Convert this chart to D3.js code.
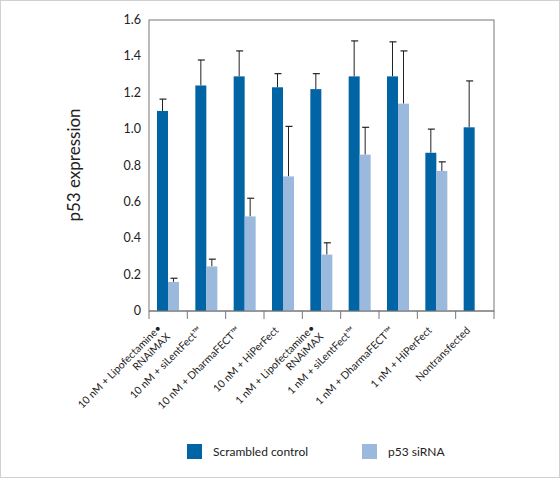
<!DOCTYPE html>
<html><head><meta charset="utf-8">
<script src="https://cdn.jsdelivr.net/npm/d3@7"></script>
<style>body{margin:0;background:#fff}</style></head>
<body><svg id="c" width="560" height="479"></svg>
<script>
const categories = [["10 nM + Lipofectamine\u2022","RNAiMAX"],["10 nM + siLentFect\u2122"],["10 nM + DharmaFECT\u2122"],["10 nM + HiPerFect"],["1 nM + Lipofectamine\u2022","RNAiMAX"],["1 nM + siLentFect\u2122"],["1 nM + DharmaFECT\u2122"],["1 nM + HiPerFect"],["Nontransfected"]];
const scrambled = [1.10,1.24,1.29,1.23,1.22,1.29,1.29,0.87,1.01];
const scrambledErrTop = [1.165,1.38,1.43,1.305,1.305,1.485,1.48,1.0,1.265];
const sirna = [0.16,0.245,0.52,0.74,0.31,0.86,1.14,0.77,null];
const sirnaErrTop = [0.18,0.285,0.62,1.015,0.375,1.01,1.43,0.82,null];
const yTicks = [0,0.2,0.4,0.6,0.8,1.0,1.2,1.4,1.6];
const seriesNames = ["Scrambled control","p53 siRNA"];
const colors = ["#0064a5","#9bb9dc"];

const svg = d3.select("#c");
const font = "Lato, 'Open Sans', sans-serif";
svg.append("rect").attr("x",0.5).attr("y",0.5).attr("width",559).attr("height",477).attr("fill","none").attr("stroke","#d0d0d0");
const L=149,R=494,T=20,B=311;
const x = d3.scaleBand().domain(d3.range(categories.length)).range([L,R]);
const y = d3.scaleLinear().domain([0,1.6]).range([B,T]);
const bw = 11, off = 8;

svg.append("rect").attr("x",L).attr("y",T).attr("width",R-L).attr("height",B-T).attr("fill","none").attr("stroke","#777").attr("stroke-width",1);

function drawSeries(vals, tops, k){
  const g = svg.append("g");
  vals.forEach((v,i)=>{
    if(v==null) return;
    const bx = x(i)+off+k*bw;
    const cx = bx+bw/2;
    g.append("line").attr("x1",cx).attr("x2",cx).attr("y1",y(v)).attr("y2",y(tops[i])).attr("stroke","#222").attr("stroke-width",1);
    g.append("line").attr("x1",cx-3).attr("x2",cx+4).attr("y1",y(tops[i])).attr("y2",y(tops[i])).attr("stroke","#222").attr("stroke-width",1.2);
    g.append("rect").attr("x",bx).attr("y",y(v)).attr("width",bw).attr("height",B-y(v)).attr("fill",colors[k]);
  });
}
drawSeries(scrambled, scrambledErrTop, 0);
drawSeries(sirna, sirnaErrTop, 1);

yTicks.forEach(t=>{
  svg.append("text").attr("x",141).attr("y",y(t)+4).attr("text-anchor","end").attr("font-family",font).attr("font-size",12.5).attr("fill","#222").text(t===0?"0":t.toFixed(1));
});
svg.append("line").attr("x1",L).attr("x2",R).attr("y1",B).attr("y2",B).attr("stroke","#777");
d3.range(categories.length+1).forEach(i=>{
  const tx = L+i*x.step();
  svg.append("line").attr("x1",tx).attr("x2",tx).attr("y1",B).attr("y2",B+8).attr("stroke","#777");
});
categories.forEach((c,i)=>{
  const cx = x(i)+x.bandwidth()/2;
  const two = c.length>1;
  const t = svg.append("text").attr("transform",`translate(${two?cx-6:cx-4},${two?B+18:B+20}) rotate(-45)`).attr("text-anchor","end").attr("font-family",font).attr("font-size",10.5).attr("fill","#222");
  c.forEach((line,j)=>{
    t.append("tspan").attr("x",0).attr("dy",j===0?0:"1.15em").text(line);
  });
});
svg.append("text").attr("transform","translate(80,165) rotate(-90)").attr("text-anchor","middle").attr("font-family",font).attr("font-size",17).attr("fill","#222").text("p53 expression");

[[187,213],[362,388]].forEach((p,k)=>{
  svg.append("rect").attr("x",p[0]).attr("y",444).attr("width",15).attr("height",15).attr("fill",colors[k]);
  svg.append("text").attr("x",p[1]).attr("y",456).attr("font-family",font).attr("font-size",12).attr("fill","#222").text(seriesNames[k]);
});
</script></body></html>
